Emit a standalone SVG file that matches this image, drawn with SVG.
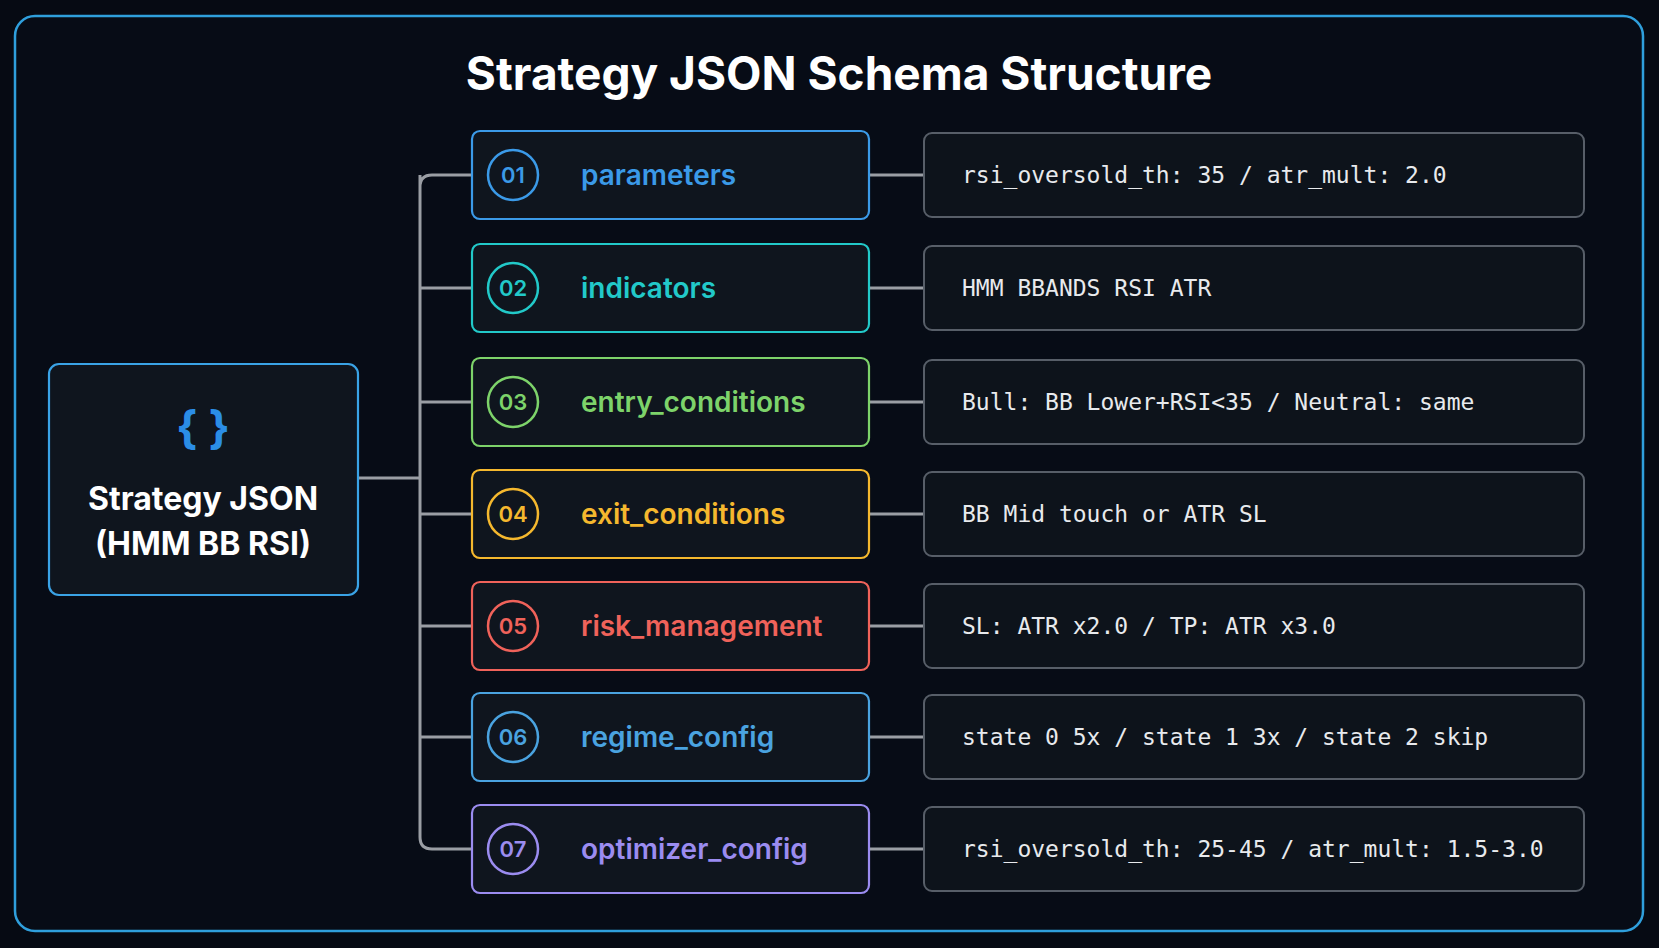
<svg xmlns="http://www.w3.org/2000/svg" width="1659" height="948" viewBox="0 0 1659 948">
<style>
.t{font-family:Inter,"Noto Sans",sans-serif;font-weight:700}
.lbl{font-family:Inter,"Noto Sans",sans-serif;font-weight:600;font-size:28px}
.num{font-family:Inter,"Noto Sans",sans-serif;font-weight:600;font-size:22px;text-anchor:middle}
.mono{font-family:"DejaVu Sans Mono","Liberation Mono",monospace;font-size:23px;fill:#e8eaed}
.box{fill:#0f151e;stroke-width:2.2}
.val{fill:#0d131b;stroke:#575e68;stroke-width:2}
.con{stroke:#9a9ea4;stroke-width:3;fill:none}
</style>
<rect width="1659" height="948" fill="#060a13"/>
<rect x="15" y="16" width="1628" height="915" rx="20" fill="#070c16" stroke="#2f9fdc" stroke-width="2.5"/>
<text class="t" x="839" y="90" font-size="46" fill="#ffffff" text-anchor="middle">Strategy JSON Schema Structure</text>
<g id="connectors">
<path class="con" d="M358 478H420M420 187Q420 175 432 175H472M420 175V837Q420 849 432 849H472"/>
<path class="con" d="M420 288H472M420 402H472M420 514H472M420 626H472M420 737H472"/>
<path class="con" d="M869 175H924M869 288H924M869 402H924M869 514H924M869 626H924M869 737H924M869 849H924"/>
</g>
<g id="root">
<rect x="49" y="364" width="309" height="231" rx="10" class="box" stroke="#3aa3e6"/>
<text class="t" x="203" y="444" font-size="46" fill="#2b8de6" text-anchor="middle">{ }</text>
<text class="t" x="203" y="510" font-size="32" fill="#ffffff" text-anchor="middle">Strategy JSON</text>
<text class="t" x="203" y="555" font-size="32" fill="#ffffff" text-anchor="middle">(HMM BB RSI)</text>
</g>
<g id="n1"><rect x="472" y="131" width="397" height="88" rx="8" class="box" stroke="#3b9ae8"/><circle cx="513" cy="175" r="25" fill="none" stroke="#3b9ae8" stroke-width="2.5"/><text class="num" x="513" y="183" fill="#3b9ae8">01</text><text class="lbl" x="581" y="185" fill="#3b9ae8">parameters</text></g>
<g id="v1"><rect x="924" y="133" width="660" height="84" rx="8" class="val"/><text class="mono" x="962" y="183">rsi_oversold_th: 35 / atr_mult: 2.0</text></g>
<g id="n2"><rect x="472" y="244" width="397" height="88" rx="8" class="box" stroke="#22c9c9"/><circle cx="513" cy="288" r="25" fill="none" stroke="#22c9c9" stroke-width="2.5"/><text class="num" x="513" y="296" fill="#22c9c9">02</text><text class="lbl" x="581" y="298" fill="#22c9c9">indicators</text></g>
<g id="v2"><rect x="924" y="246" width="660" height="84" rx="8" class="val"/><text class="mono" x="962" y="296">HMM BBANDS RSI ATR</text></g>
<g id="n3"><rect x="472" y="358" width="397" height="88" rx="8" class="box" stroke="#7dd36a"/><circle cx="513" cy="402" r="25" fill="none" stroke="#7dd36a" stroke-width="2.5"/><text class="num" x="513" y="410" fill="#7dd36a">03</text><text class="lbl" x="581" y="412" fill="#7dd36a">entry_conditions</text></g>
<g id="v3"><rect x="924" y="360" width="660" height="84" rx="8" class="val"/><text class="mono" x="962" y="410">Bull: BB Lower+RSI&lt;35 / Neutral: same</text></g>
<g id="n4"><rect x="472" y="470" width="397" height="88" rx="8" class="box" stroke="#f5b82e"/><circle cx="513" cy="514" r="25" fill="none" stroke="#f5b82e" stroke-width="2.5"/><text class="num" x="513" y="522" fill="#f5b82e">04</text><text class="lbl" x="581" y="524" fill="#f5b82e">exit_conditions</text></g>
<g id="v4"><rect x="924" y="472" width="660" height="84" rx="8" class="val"/><text class="mono" x="962" y="522">BB Mid touch or ATR SL</text></g>
<g id="n5"><rect x="472" y="582" width="397" height="88" rx="8" class="box" stroke="#f0625a"/><circle cx="513" cy="626" r="25" fill="none" stroke="#f0625a" stroke-width="2.5"/><text class="num" x="513" y="634" fill="#f0625a">05</text><text class="lbl" x="581" y="636" fill="#f0625a">risk_management</text></g>
<g id="v5"><rect x="924" y="584" width="660" height="84" rx="8" class="val"/><text class="mono" x="962" y="634">SL: ATR x2.0 / TP: ATR x3.0</text></g>
<g id="n6"><rect x="472" y="693" width="397" height="88" rx="8" class="box" stroke="#4aa3e0"/><circle cx="513" cy="737" r="25" fill="none" stroke="#4aa3e0" stroke-width="2.5"/><text class="num" x="513" y="745" fill="#4aa3e0">06</text><text class="lbl" x="581" y="747" fill="#4aa3e0">regime_config</text></g>
<g id="v6"><rect x="924" y="695" width="660" height="84" rx="8" class="val"/><text class="mono" x="962" y="745">state 0 5x / state 1 3x / state 2 skip</text></g>
<g id="n7"><rect x="472" y="805" width="397" height="88" rx="8" class="box" stroke="#9b8cf0"/><circle cx="513" cy="849" r="25" fill="none" stroke="#9b8cf0" stroke-width="2.5"/><text class="num" x="513" y="857" fill="#9b8cf0">07</text><text class="lbl" x="581" y="859" fill="#9b8cf0">optimizer_config</text></g>
<g id="v7"><rect x="924" y="807" width="660" height="84" rx="8" class="val"/><text class="mono" x="962" y="857">rsi_oversold_th: 25-45 / atr_mult: 1.5-3.0</text></g>
</svg>
